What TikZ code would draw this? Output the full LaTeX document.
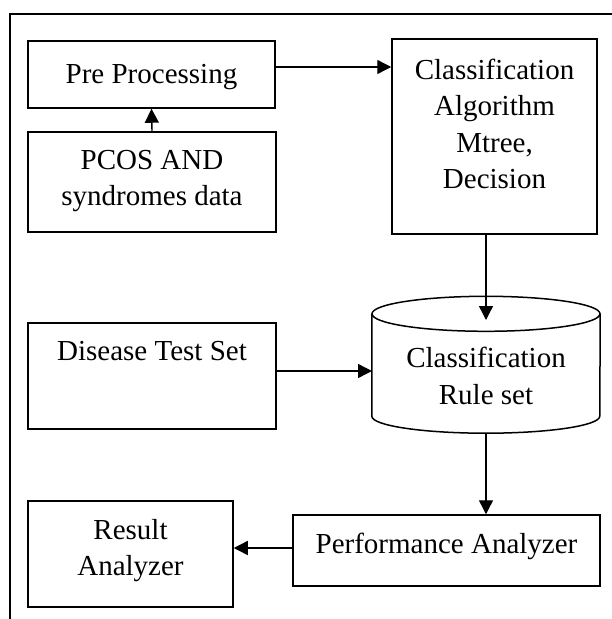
\documentclass[tikz,border=0pt]{standalone}
\usepackage{fontspec}
\setmainfont{Liberation Serif}
\usetikzlibrary{arrows.meta,calc}
\begin{document}
\begin{tikzpicture}[x=1pt,y=-1pt,
  box/.style={draw,line width=1.5pt,inner sep=0pt},
  lbl/.style={inner sep=0pt,align=center,font=\fontsize{29}{36.5}\selectfont},
  arr/.style={line width=1.4pt,-{Triangle[length=14pt,width=14pt]}},
  lin/.style={line width=1.5pt}]
\useasboundingbox (0,0) rectangle (611,619);
% frame
\draw[lin] (612,14) -- (10,14) -- (10,620);
% boxes
\node[box,minimum width=247pt,minimum height=67pt] (pre) at (151.5,74.5) {};
\node[box,minimum width=205pt,minimum height=195pt] (cls) at (494.5,136.5) {};
\node[box,minimum width=248pt,minimum height=100pt] (pcos) at (152,182) {};
\node[box,minimum width=248pt,minimum height=106pt] (dis) at (152,376) {};
\node[box,minimum width=307pt,minimum height=71pt] (perf) at (446.5,550.5) {};
\node[box,minimum width=205pt,minimum height=106pt] (res) at (130.5,554) {};
% cylinder
\node[inner sep=0pt,minimum width=228pt,minimum height=102pt] (cyl) at (486,365) {};
\draw[lin] (cyl.north west) -- (cyl.south west) arc[start angle=180,end angle=360,x radius=114pt,y radius=17pt] -- (cyl.north east);
\draw[lin] (cyl.north) ellipse[x radius=114pt,y radius=17.5pt];
% texts
\node[lbl,anchor=base] (tpre) at (151.5,83) {Pre Processing};
\node[lbl,anchor=north] (tcls) at (494.5,58.5) {Classification\\Algorithm\\Mtree,\\Decision};
\node[lbl,anchor=north] (tpcos) at (152,150) {PCOS AND\\syndromes data};
\node[lbl,anchor=base] (tdis) at (152,360) {Disease Test Set};
\node[lbl,anchor=north] (tcyl) at (486,347) {Classification\\Rule set};
\node[lbl,anchor=base] (tperf) at (446.5,553) {Performance Analyzer};
\node[lbl,anchor=north] (tres) at (130.5,519) {Result\\Analyzer};
% connectors
\coordinate (preout) at (275,67);
\coordinate (cyltop) at (486,320);
\coordinate (cylin) at (372,371);
\draw[arr] (pcos.north) -- (pre.south);
\draw[arr] (pre.east |- preout) -- (cls.west |- preout);
\draw[arr] (cyltop |- cls.south) -- (cyltop);
\draw[arr] (dis.east |- cylin) -- (cylin);
\draw[arr] ([yshift=-17pt]cyl.south) -- (perf.north -| cyl.south);
\draw[arr] (perf.west |- 0,548) -- (res.east |- 0,548);
\end{tikzpicture}
\end{document}
